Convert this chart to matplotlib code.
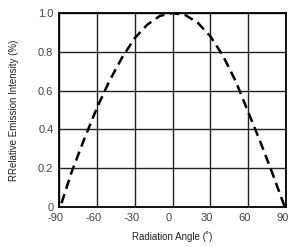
import matplotlib
matplotlib.use('Agg')
import matplotlib.pyplot as plt
import matplotlib.transforms as mtransforms

# radiation pattern
angles = [-88, -80, -70, -60, -50, -40, -30, -20, -10, 0, 10, 20, 30, 40, 50, 60, 70, 80, 89]
intensity = [0.02, 0.18, 0.35, 0.51, 0.65, 0.77, 0.87, 0.94, 0.985, 1.0, 0.99, 0.95, 0.88, 0.78, 0.65, 0.49, 0.33, 0.16, 0.0]

x_ticks = [-90, -60, -30, 0, 30, 60, 90]
y_ticks = [0, 0.2, 0.4, 0.6, 0.8, 1.0]
y_tick_labels = ['0', '0.2', '0.4', '0.6', '0.8', '1.0']

plt.rcParams['font.family'] = ['Liberation Sans', 'DejaVu Sans']
plt.rcParams['axes.unicode_minus'] = False

fig = plt.figure(figsize=(2.9, 2.47), dpi=100)
ax = fig.add_axes([59/290, 1 - 207/247, 227/290, 194/247])

ax.plot(angles, intensity, color='black', lw=1.8, dashes=(3.8, 2.2))

ax.set_xlim(-90, 90)
ax.set_ylim(0, 1.0)
ax.set_xticks(x_ticks)
ax.set_yticks(y_ticks)
ax.set_yticklabels(y_tick_labels)
ax.grid(True, color='#222222', lw=1.0)
ax.set_axisbelow(True)
ax.tick_params(length=0, labelsize=8, colors='#444444', pad=4)
for s in ax.spines.values():
    s.set_linewidth(1.3)
    s.set_color('black')

# x tick labels sit a little left of their grid lines in the original
shift = mtransforms.ScaledTranslation(-3.5/100, 0, fig.dpi_scale_trans)
for lbl in ax.get_xticklabels():
    lbl.set_transform(lbl.get_transform() + shift)

ax.set_xlabel('Radiation Angle (\u02da)', fontsize=7, color='#222222', labelpad=6)
ax.set_ylabel('RRelative Emission Intensity (%)', fontsize=7, color='#222222', labelpad=14)

fig.savefig('out.png', dpi=100)
